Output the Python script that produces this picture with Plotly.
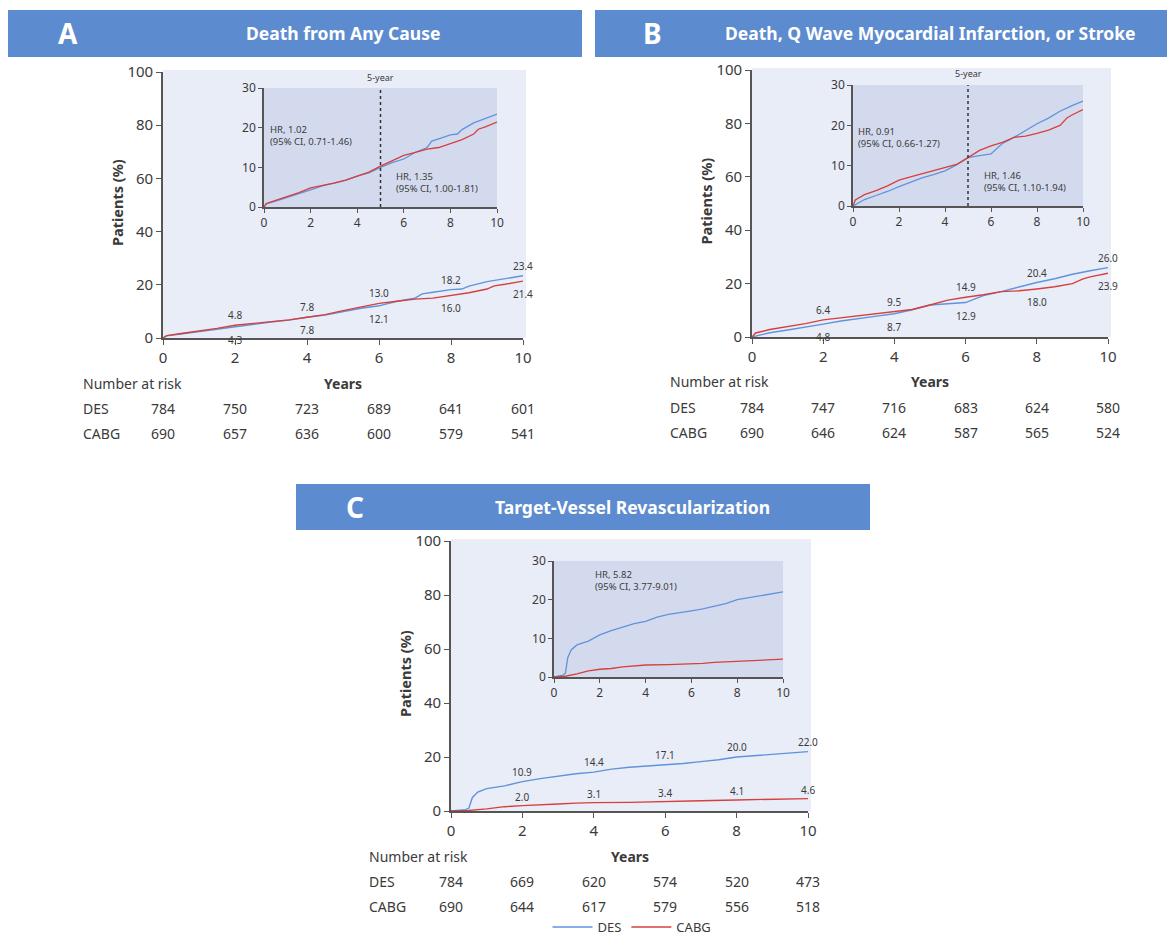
import plotly.graph_objects as go

W, H = 1167, 941
FONT = "Noto Sans"
DES_COLOR = "#5f93dc"
CABG_COLOR = "#d6403c"
TEXT = "#3a3a3a"
AXIS = "#555555"
HEADER = "#5d8bcf"
MAIN_BG = "#e9edf8"
INSET_BG = "#d4daee"

risk_years = [0, 2, 4, 6, 8, 10]
label_years = [2, 4, 6, 8, 10]

# ---- Panel A: death from any cause ----
a_des_t = [0, 0.1, 0.5, 1, 1.5, 2, 2.5, 3, 3.5, 4, 4.5, 5, 5.5, 6, 6.5, 7, 7.2, 7.5, 8, 8.3, 8.5, 9, 9.5, 10]
a_des_y = [0, 0.8, 1.5, 2.4, 3.3, 4.3, 5.3, 6.0, 6.7, 7.8, 8.6, 10.0, 11.2, 12.1, 13.8, 15.0, 16.6, 17.2, 18.2, 18.4, 19.5, 21.2, 22.3, 23.4]
a_cabg_t = [0, 0.1, 0.5, 1, 1.5, 2, 2.5, 3, 3.5, 4, 4.5, 5, 5.5, 6, 6.5, 7, 7.5, 8, 8.5, 9, 9.2, 9.5, 10]
a_cabg_y = [0, 0.9, 1.7, 2.6, 3.6, 4.8, 5.4, 6.0, 6.8, 7.8, 8.8, 10.3, 11.6, 13.0, 13.8, 14.6, 15.0, 16.0, 17.0, 18.4, 19.6, 20.2, 21.4]
a_des_labels = [4.3, 7.8, 12.1, 18.2, 23.4]
a_cabg_labels = [4.8, 7.8, 13.0, 16.0, 21.4]
a_des_risk = [784, 750, 723, 689, 641, 601]
a_cabg_risk = [690, 657, 636, 600, 579, 541]
a_hr = ["HR, 1.02<br>(95% CI, 0.71-1.46)", "HR, 1.35<br>(95% CI, 1.00-1.81)"]

# ---- Panel B: death, Q wave MI, or stroke ----
b_des_t = [0, 0.25, 0.5, 1, 1.5, 2, 2.5, 3, 3.5, 4, 4.5, 5, 5.5, 6, 6.3, 6.5, 7, 7.5, 8, 8.5, 9, 9.5, 10]
b_des_y = [0, 0.8, 1.6, 2.6, 3.6, 4.8, 6.0, 7.0, 7.8, 8.7, 10.2, 12.0, 12.5, 12.9, 14.5, 15.5, 17.0, 18.8, 20.4, 21.8, 23.5, 24.8, 26.0]
b_cabg_t = [0, 0.1, 0.5, 1, 1.5, 2, 2.5, 3, 3.5, 4, 4.5, 5, 5.5, 6, 6.5, 7, 7.5, 8, 8.5, 9, 9.3, 9.5, 10]
b_cabg_y = [0, 1.5, 2.8, 3.8, 5.0, 6.4, 7.2, 8.0, 8.8, 9.5, 10.3, 12.0, 13.8, 14.9, 15.8, 17.0, 17.3, 18.0, 18.8, 20.0, 21.8, 22.5, 23.9]
b_des_labels = [4.8, 8.7, 12.9, 20.4, 26.0]
b_cabg_labels = [6.4, 9.5, 14.9, 18.0, 23.9]
b_des_risk = [784, 747, 716, 683, 624, 580]
b_cabg_risk = [690, 646, 624, 587, 565, 524]
b_hr = ["HR, 0.91<br>(95% CI, 0.66-1.27)", "HR, 1.46<br>(95% CI, 1.10-1.94)"]

# ---- Panel C: target-vessel revascularization ----
c_des_t = [0, 0.4, 0.5, 0.6, 0.75, 1, 1.5, 2, 2.5, 3, 3.5, 4, 4.5, 5, 5.5, 6, 6.5, 7, 7.5, 8, 8.5, 9, 9.5, 10]
c_des_y = [0, 0.5, 1.0, 5.0, 7.0, 8.3, 9.3, 10.9, 12.0, 13.0, 13.8, 14.4, 15.5, 16.2, 16.6, 17.1, 17.6, 18.3, 19.0, 20.0, 20.5, 21.0, 21.4, 22.0]
c_cabg_t = [0, 0.5, 1, 1.5, 2, 2.5, 3, 3.5, 4, 5, 6, 6.5, 7, 8, 9, 10]
c_cabg_y = [0, 0.2, 0.8, 1.6, 2.0, 2.2, 2.6, 2.9, 3.1, 3.2, 3.4, 3.5, 3.8, 4.1, 4.4, 4.6]
c_des_labels = [10.9, 14.4, 17.1, 20.0, 22.0]
c_cabg_labels = [2.0, 3.1, 3.4, 4.1, 4.6]
c_des_risk = [784, 669, 620, 574, 520, 473]
c_cabg_risk = [690, 644, 617, 579, 556, 518]
c_hr = ["HR, 5.82<br>(95% CI, 3.77-9.01)"]


def px(x):
    return x / W


def py(y):
    return 1 - y / H


def note(**kw):
    base = dict(showarrow=False, xanchor="center", yanchor="middle")
    base.update(kw)
    return base


panels = [
    dict(letter="A", title="Death from Any Cause",
         header=(8, 582, 10, 57), letter_x=68, title_x=343,
         main=(163, 523, 72, 338), inset=(264, 497, 88, 207),
         des=(a_des_t, a_des_y), cabg=(a_cabg_t, a_cabg_y),
         des_lab=a_des_labels, cabg_lab=a_cabg_labels, both_above=False,
         des_risk=a_des_risk, cabg_risk=a_cabg_risk, risk_left=81,
         hr=a_hr, hr_pos=[(0.15, 18), (5.6, 6.2)], five_year=True),
    dict(letter="B", title="Death, Q Wave Myocardial Infarction, or Stroke",
         header=(595, 1167, 10, 57), letter_x=652, title_x=930,
         main=(752, 1108, 70, 337), inset=(853, 1083, 85, 206),
         des=(b_des_t, b_des_y), cabg=(b_cabg_t, b_cabg_y),
         des_lab=b_des_labels, cabg_lab=b_cabg_labels, both_above=False,
         des_risk=b_des_risk, cabg_risk=b_cabg_risk, risk_left=668,
         hr=b_hr, hr_pos=[(0.15, 17), (5.6, 6.1)], five_year=True),
    dict(letter="C", title="Target-Vessel Revascularization",
         header=(296, 870, 484, 530), letter_x=355, title_x=632,
         main=(451, 808, 541, 811), inset=(554, 783, 561, 677),
         des=(c_des_t, c_des_y), cabg=(c_cabg_t, c_cabg_y),
         des_lab=c_des_labels, cabg_lab=c_cabg_labels, both_above=True,
         des_risk=c_des_risk, cabg_risk=c_cabg_risk, risk_left=367,
         hr=c_hr, hr_pos=[(1.7, 25)], five_year=False),
]

fig = go.Figure()
shapes = []
annotations = []
layout_axes = {}

for i, p in enumerate(panels):
    mx, ix = 2 * i + 1, 2 * i + 2
    mxa = "x" if mx == 1 else f"x{mx}"
    mya = "y" if mx == 1 else f"y{mx}"
    ixa, iya = f"x{ix}", f"y{ix}"
    x0, x1, y0, y1 = p["main"]
    ix0, ix1, iy0, iy1 = p["inset"]

    # header bar and titles
    hx0, hx1, hy0, hy1 = p["header"]
    shapes.append(dict(type="rect", xref="paper", yref="paper", layer="below",
                       x0=px(hx0), x1=px(hx1), y0=py(hy1), y1=py(hy0),
                       fillcolor=HEADER, line=dict(width=0)))
    hc = py((hy0 + hy1) / 2)
    annotations.append(note(xref="paper", yref="paper", x=px(p["letter_x"]), y=hc,
                            text=f"<b>{p['letter']}</b>",
                            font=dict(family=FONT, size=28, color="white")))
    annotations.append(note(xref="paper", yref="paper", x=px(p["title_x"]), y=hc,
                            text=f"<b>{p['title']}</b>",
                            font=dict(family=FONT, size=17.5, color="white")))

    # plot backgrounds
    shapes.append(dict(type="rect", xref="paper", yref="paper", layer="below",
                       x0=px(x0), x1=px(x1 + 3), y0=py(y1), y1=py(y0 - 2),
                       fillcolor=MAIN_BG, line=dict(width=0)))
    shapes.append(dict(type="rect", xref="paper", yref="paper", layer="below",
                       x0=px(ix0), x1=px(ix1), y0=py(iy1), y1=py(iy0),
                       fillcolor=INSET_BG, line=dict(width=0)))

    common = dict(showgrid=False, zeroline=False, showline=True, linecolor=AXIS,
                  linewidth=1.6, ticks="outside", tickcolor=AXIS, tickwidth=1.4,
                  fixedrange=True)
    layout_axes[f"xaxis{'' if mx == 1 else mx}"] = dict(
        common, domain=[px(x0), px(x1)], range=[0, 10], tickvals=[0, 2, 4, 6, 8, 10],
        ticklen=5, anchor=mya, tickfont=dict(family=FONT, size=15, color=TEXT))
    layout_axes[f"yaxis{'' if mx == 1 else mx}"] = dict(
        common, domain=[py(y1), py(y0)], range=[0, 100], tickvals=[0, 20, 40, 60, 80, 100],
        ticklen=5, anchor=mxa, tickfont=dict(family=FONT, size=15, color=TEXT))
    layout_axes[f"xaxis{ix}"] = dict(
        common, domain=[px(ix0), px(ix1)], range=[0, 10], tickvals=[0, 2, 4, 6, 8, 10],
        ticklen=4, anchor=iya, tickfont=dict(family=FONT, size=12, color=TEXT))
    layout_axes[f"yaxis{ix}"] = dict(
        common, domain=[py(iy1), py(iy0)], range=[0, 30], tickvals=[0, 10, 20, 30],
        ticklen=4, anchor=ixa, tickfont=dict(family=FONT, size=12, color=TEXT))

    show = i == 2
    for (t, v), name, color in [(p["des"], "DES", DES_COLOR), (p["cabg"], "CABG", CABG_COLOR)]:
        fig.add_trace(go.Scatter(x=t, y=v, mode="lines", name=name, xaxis=mxa, yaxis=mya,
                                 line=dict(color=color, width=1.4), showlegend=show,
                                 hoverinfo="skip"))
        fig.add_trace(go.Scatter(x=t, y=v, mode="lines", name=name, xaxis=ixa, yaxis=iya,
                                 line=dict(color=color, width=1.3), showlegend=False,
                                 hoverinfo="skip"))

    # value labels at 2-year marks
    for yr, dv, cv in zip(label_years, p["des_lab"], p["cabg_lab"]):
        if p["both_above"]:
            pairs = [(dv, 10), (cv, 9)]
        elif dv > cv:
            pairs = [(dv, 10), (cv, -13)]
        else:
            pairs = [(cv, 10), (dv, -13)]
        for val, shift in pairs:
            annotations.append(note(xref=mxa, yref=mya, x=yr, y=val, yshift=shift,
                                    text=f"{val:.1f}",
                                    font=dict(family=FONT, size=10, color=TEXT)))

    # hazard ratio text
    for txt, (hx, hy) in zip(p["hr"], p["hr_pos"]):
        annotations.append(note(xref=ixa, yref=iya, x=hx, y=hy, text=txt,
                                xanchor="left", align="left",
                                font=dict(family=FONT, size=9.5, color=TEXT)))

    if p["five_year"]:
        shapes.append(dict(type="line", xref=ixa, yref=iya, x0=5, x1=5, y0=0, y1=30,
                           line=dict(color="#333333", width=1.5, dash="dot")))
        annotations.append(note(xref=ixa, yref="paper", x=5, y=py(iy0 - 11),
                                text="5-year",
                                font=dict(family=FONT, size=9, color=TEXT)))

    # axis titles
    annotations.append(note(xref="paper", yref="paper", x=px(x0 - 46), y=py((y0 + y1) / 2 - 2),
                            text="<b>Patients (%)</b>", textangle=-90,
                            font=dict(family=FONT, size=14.5, color=TEXT)))
    annotations.append(note(xref=mxa, yref="paper", x=5, y=py(y1 + 45),
                            text="<b>Years</b>",
                            font=dict(family=FONT, size=14, color=TEXT)))

    # number at risk table
    annotations.append(note(xref="paper", yref="paper", x=px(p["risk_left"]), y=py(y1 + 45),
                            text="Number at risk", xanchor="left",
                            font=dict(family=FONT, size=14, color=TEXT)))
    for row_name, row_vals, dy in [("DES", p["des_risk"], 70), ("CABG", p["cabg_risk"], 95)]:
        annotations.append(note(xref="paper", yref="paper", x=px(p["risk_left"]), y=py(y1 + dy),
                                text=row_name, xanchor="left",
                                font=dict(family=FONT, size=14, color=TEXT)))
        for yr, n in zip(risk_years, row_vals):
            annotations.append(note(xref=mxa, yref="paper", x=yr, y=py(y1 + dy),
                                    text=str(n),
                                    font=dict(family=FONT, size=14, color=TEXT)))

fig.update_layout(
    width=W, height=H, margin=dict(l=0, r=0, t=0, b=0, autoexpand=False),
    paper_bgcolor="white", plot_bgcolor="rgba(0,0,0,0)",
    font=dict(family=FONT, color=TEXT),
    shapes=shapes, annotations=annotations,
    legend=dict(orientation="h", x=px(632), xanchor="center", y=py(927), yanchor="middle",
                font=dict(family=FONT, size=13, color=TEXT), bgcolor="rgba(0,0,0,0)",
                itemwidth=40, tracegroupgap=0),
    **layout_axes,
)

fig.write_html("out.html")
